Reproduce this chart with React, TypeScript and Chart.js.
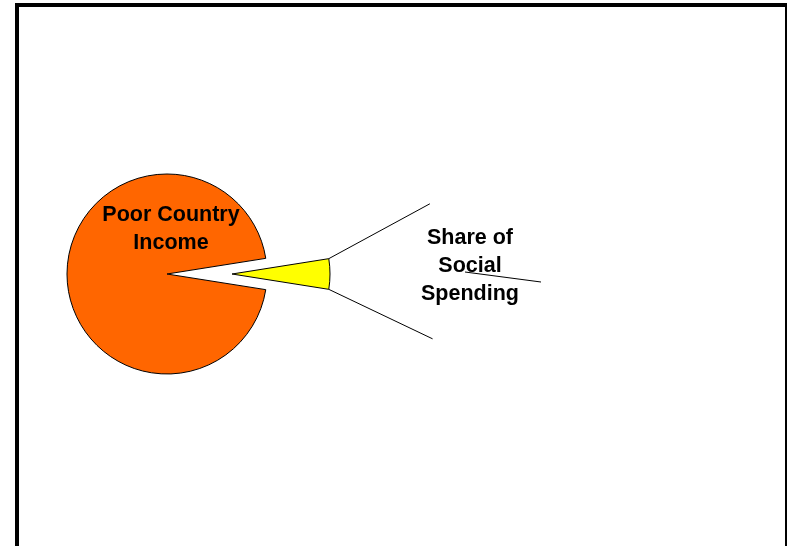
import React, { useEffect, useRef } from "react";
import { Chart, registerables } from "chart.js";

Chart.register(...registerables);

// ---- data ----
const categories: string[] = ["Poor Country Income", "Share of Social Spending"];
const values: number[] = [95, 5];
const labelLines: string[][] = [["Poor Country", "Income"], ["Share of", "Social", "Spending"]];

// ---- styles ----
const sliceColors = ["#FF6600", "#FFFF00"];
const explodeDistance = [0, 65];
const explodedRadius = 98;
const FONT = 'bold 21.5px "Liberation Sans", Arial, sans-serif';

const explodePlugin = {
  id: "explode",
  afterDatasetUpdate(chart: any, args: any) {
    const arcs = args.meta.data as any[];
    arcs.forEach((arc, i) => {
      const d = explodeDistance[i] || 0;
      if (!d) return;
      const mid = (arc.startAngle + arc.endAngle) / 2;
      arc.x += Math.cos(mid) * d;
      arc.y += Math.sin(mid) * d;
      arc.outerRadius = explodedRadius;
    });
  },
};

const labelPlugin = {
  id: "pieDecor",
  afterDatasetsDraw(chart: any) {
    const ctx: CanvasRenderingContext2D = chart.ctx;
    const meta = chart.getDatasetMeta(0);
    const arcs = meta.data as any[];
    if (arcs.length < 2) return;
    const main = arcs[0];
    const cx = main.x;
    const cy = main.y;
    const r = main.outerRadius;

    const ex = arcs[1];
    const R = ex.outerRadius;
    const p1 = { x: ex.x + Math.cos(ex.startAngle) * R, y: ex.y + Math.sin(ex.startAngle) * R };
    const p2 = { x: ex.x + Math.cos(ex.endAngle) * R, y: ex.y + Math.sin(ex.endAngle) * R };

    ctx.save();
    ctx.strokeStyle = "#000";
    ctx.lineWidth = 1;
    const len = 115;
    const a1 = (-28.5 * Math.PI) / 180;
    const a2 = (25.5 * Math.PI) / 180;
    ctx.beginPath();
    ctx.moveTo(p1.x, p1.y);
    ctx.lineTo(p1.x + Math.cos(a1) * len, p1.y + Math.sin(a1) * len);
    ctx.moveTo(p2.x, p2.y);
    ctx.lineTo(p2.x + Math.cos(a2) * len, p2.y + Math.sin(a2) * len);
    ctx.stroke();

    // labels
    ctx.fillStyle = "#000";
    ctx.font = FONT;
    ctx.textAlign = "center";
    ctx.textBaseline = "alphabetic";
    const lh = 28;
    labelLines[0].forEach((s, i) => ctx.fillText(s, cx + 4, cy - 0.53 * r + i * lh));
    const sx = cx + 3.03 * r;
    labelLines[1].forEach((s, i) => ctx.fillText(s, sx, cy - 0.30 * r + i * lh));

    // leader line through label
    ctx.beginPath();
    ctx.moveTo(sx - 5, cy - 2);
    ctx.lineTo(sx + 71, cy + 8);
    ctx.stroke();
    ctx.restore();
  },
};

export default function App() {
  const ref = useRef<HTMLCanvasElement | null>(null);
  useEffect(() => {
    if (!ref.current) return;
    const chart = new Chart(ref.current, {
      type: "pie",
      data: {
        labels: categories,
        datasets: [
          {
            data: values,
            backgroundColor: sliceColors,
            borderColor: "#000",
            borderWidth: 1,
            clip: false as any,
          } as any,
        ],
      },
      options: {
        animation: false,
        responsive: false,
        maintainAspectRatio: false,
        rotation: 99,
        radius: 100,
        layout: { padding: { left: 0, right: 454, top: 2, bottom: 0 } },
        plugins: {
          legend: { display: false },
          tooltip: { enabled: false },
          title: { display: false },
        },
        events: [],
      } as any,
      plugins: [explodePlugin, labelPlugin],
    });
    return () => chart.destroy();
  }, []);

  return (
    <div style={{ position: "fixed", left: 0, top: 0, width: 788, height: 546, background: "#fff", overflow: "hidden" }}>
      <div
        style={{
          position: "absolute",
          left: 15,
          top: 3,
          width: 772,
          height: 545,
          boxSizing: "border-box",
          borderTop: "4px solid #000",
          borderLeft: "4px solid #000",
          borderRight: "2px solid #000",
          borderBottom: "2px solid #888",
        }}
      />
      <canvas ref={ref} width={788} height={546} style={{ position: "absolute", left: 0, top: 0, width: 788, height: 546 }} />
    </div>
  );
}
